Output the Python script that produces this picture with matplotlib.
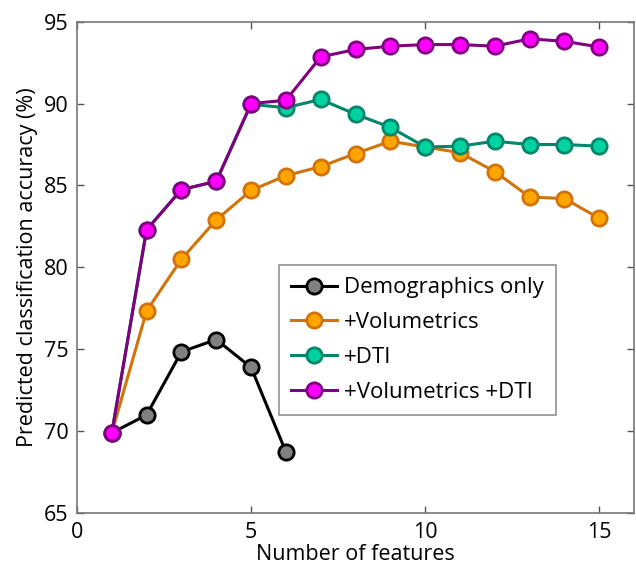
import matplotlib
matplotlib.use('Agg')
import matplotlib.pyplot as plt

plt.rcParams['font.family'] = ['Open Sans', 'DejaVu Sans']

n_features = list(range(1, 16))
demographics = [69.9, 71.0, 74.85, 75.6, 73.9, 68.75]
volumetrics = [69.9, 77.35, 80.5, 82.9, 84.7, 85.6, 86.15, 86.95, 87.7, 87.35, 87.0, 85.85, 84.3, 84.2, 83.0]
dti = [69.9, 82.3, 84.75, 85.25, 89.95, 89.75, 90.25, 89.35, 88.55, 87.35, 87.4, 87.7, 87.5, 87.5, 87.4]
vol_dti = [69.9, 82.3, 84.75, 85.25, 90.0, 90.2, 92.85, 93.3, 93.5, 93.6, 93.6, 93.5, 93.95, 93.8, 93.45]

fig = plt.figure(figsize=(6.36, 5.69), dpi=100)
ax = fig.add_axes([0.121, 0.098, 0.876, 0.864])

ms = 11
lw = 2.2
ax.plot(n_features[:len(demographics)], demographics, color='black', lw=lw, marker='o',
        ms=ms, mfc='#808080', mec='black', mew=2, label='Demographics only', zorder=3)
ax.plot(n_features, volumetrics, color='#D2730A', lw=lw, marker='o',
        ms=ms, mfc='#FFA500', mec='#D2730A', mew=2, label='+Volumetrics', zorder=4)
ax.plot(n_features, dti, color='#00866A', lw=lw, marker='o',
        ms=ms, mfc='#00D3A0', mec='#00866A', mew=2, label='+DTI', zorder=5)
ax.plot(n_features, vol_dti, color='#800080', lw=lw, marker='o',
        ms=ms, mfc='#FF00FF', mec='#800080', mew=2, label='+Volumetrics +DTI', zorder=6)

ax.set_xlim(0, 16)
ax.set_ylim(65, 95)
ax.set_xticks([0, 5, 10, 15])
ax.set_yticks([65, 70, 75, 80, 85, 90, 95])
ax.tick_params(direction='in', length=5, width=1, color='#555555', labelsize=15.5,
               top=True, right=True, pad=6)
for s in ax.spines.values():
    s.set_color('#777777')
    s.set_linewidth(1.2)

ax.set_xlabel('Number of features', fontsize=15.5, labelpad=1)
ax.set_ylabel('Predicted classification accuracy (%)', fontsize=15.5, labelpad=4)

leg = ax.legend(loc='lower right', bbox_to_anchor=(0.86, 0.2), fontsize=16,
                frameon=True, fancybox=False, handlelength=2.1, handletextpad=0.3,
                borderpad=0.55, labelspacing=0.62, borderaxespad=0)
leg.get_frame().set_edgecolor('#777777')
leg.get_frame().set_linewidth(1.2)

fig.savefig('out.png', dpi=100)
